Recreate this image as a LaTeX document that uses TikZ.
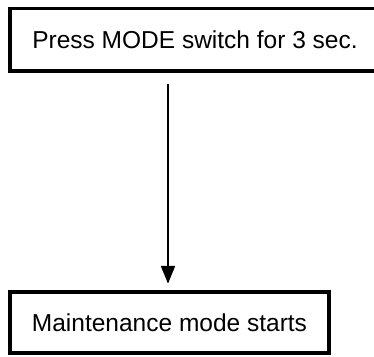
\documentclass[tikz,border=0pt]{standalone}
\usepackage{fontspec}
\setmainfont{Liberation Sans}
\usetikzlibrary{arrows.meta}
\begin{document}
\begin{tikzpicture}[x=1pt,y=-1pt,
  stepbox/.style={draw=black,line width=3.5pt,inner sep=0pt,font=\fontsize{24.5}{28}\selectfont},
  flow/.style={line width=2.5pt,-{Triangle[width=14pt,length=18pt]}}]
\useasboundingbox (0,0) rectangle (374,356);
\node[stepbox,minimum width=370pt,minimum height=62.5pt] (top) at (195,39.75) {Press MODE switch for 3 sec.};
\node[stepbox,minimum width=319pt,minimum height=61pt] (bot) at (169.5,322.5) {Maintenance mode starts};
\draw[flow,shorten <=11.5pt,shorten >=6.5pt] ([xshift=-1.5pt]bot.north |- top.south) -- ([xshift=-1.5pt]bot.north);
\end{tikzpicture}
\end{document}
